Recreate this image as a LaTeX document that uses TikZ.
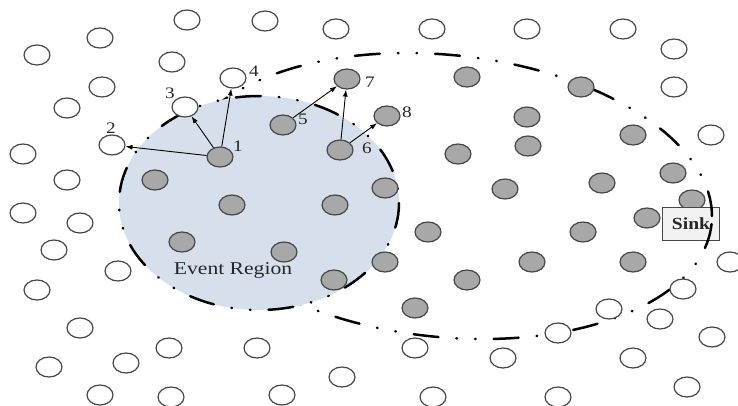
\documentclass[tikz,border=0pt]{standalone}
\usepackage{fontspec}
\setmainfont{Liberation Serif}
\usetikzlibrary{shapes.geometric,arrows.meta}
\definecolor{regionfill}{RGB}{214,224,236}
\definecolor{nodegray}{RGB}{168,168,168}
\definecolor{rimgray}{RGB}{70,70,70}
\definecolor{sinkfill}{RGB}{242,242,242}
\tikzset{
  sensor/.style={ellipse, minimum width=26pt, minimum height=20pt, inner sep=0pt, draw=rimgray, line width=1.2pt},
  idle/.style={sensor, fill=white},
  active/.style={sensor, fill=nodegray},
  boundary/.style={line width=2.5pt, line cap=round, dash pattern=on 25pt off 18pt on 0.6pt off 18pt on 0.6pt off 18pt},
  hop/.style={-{Latex[length=7pt,width=5pt]}, line width=0.9pt},
  tag/.style={font=\fontsize{16}{18}\selectfont, text=black!85, inner sep=0pt},
  routezone/.style={boundary, rotate around={-6:(445,196)}},
}
\begin{document}
\begin{tikzpicture}[x=1pt,y=-1pt]
\useasboundingbox (0,0) rectangle (738,405);
\fill[white] (0,0) rectangle (738,405);

% zone that the reports cross on their way to the sink
\draw[routezone] (445,196) ellipse [x radius=268, y radius=141];

% event region
\fill[regionfill] (259,203) ellipse [x radius=140, y radius=107];
\draw[boundary] (259,203) ellipse [x radius=140, y radius=107];

% sleeping sensors
\foreach \p [count=\i] in {(187,20),(265,21),(336,29),(432,29),(527,29),(623,29),(674,49),(674,87),(711,135),
  (100,38),(37,55),(172,62),(102,87),(67,108),(23,154),(67,180),
  (23,213),(80,223),(54,250),(118,271),(37,290),(80,328),(49,367),(126,363),(169,348),(100,395),(171,397),
  (257,348),(342,377),(282,395),(415,348),(433,397),(503,358),
  (730,262),(683,289),(609,309),(660,319),(558,333),(712,337),(633,358),(558,397),(687,387)}
  \node[idle] (w\i) at \p {};

% active sensors
\foreach \p [count=\i] in {(155,180),(232,205),(182,242),(284,252),(335,205),(334,280),(385,188),(385,262),
  (467,77),(581,87),(527,117),(528,146),(458,154),(633,135),(673,173),(692,200),(647,218),
  (505,189),(602,183),(428,232),(583,232),(532,262),(633,262),(467,280),(415,308)}
  \node[active] (g\i) at \p {};

% numbered sensors
\node[active] (n1) at (220,157) {};
\node[idle]   (n2) at (112,145) {};
\node[idle]   (n3) at (185,107) {};
\node[idle]   (n4) at (233,78) {};
\node[active] (n5) at (283,125) {};
\node[active] (n6) at (340,150) {};
\node[active] (n7) at (347,79) {};
\node[active] (n8) at (387,116) {};

\node[tag] (l1) at (238,146) {\scalebox{1.2}[1]{1}};
\node[tag] (l2) at (111,128) {\scalebox{1.2}[1]{2}};
\node[tag] (l3) at (170,93)  {\scalebox{1.2}[1]{3}};
\node[tag] (l4) at (254,71)  {\scalebox{1.2}[1]{4}};
\node[tag] (l5) at (303,119) {\scalebox{1.2}[1]{5}};
\node[tag] (l6) at (367,148) {\scalebox{1.2}[1]{6}};
\node[tag] (l7) at (370,82)  {\scalebox{1.2}[1]{7}};
\node[tag] (l8) at (407,112) {\scalebox{1.2}[1]{8}};

% forwarding hops
\draw[hop] (n1) -- (n2);
\draw[hop] (n1) -- (n3);
\draw[hop] (n1) -- (n4);
\draw[hop] (n5) -- (n7);
\draw[hop] (n6) -- (n7);
\draw[hop] (n6) -- (n8);

\node[text=black!85, inner sep=0pt, font=\fontsize{18}{20}\selectfont] (region) at (233,270) {\scalebox{1.2}[1]{Event Region}};

% sink
\node[draw=rimgray, fill=sinkfill, line width=1pt, minimum width=57pt, minimum height=33pt, inner sep=0pt,
  text=black!85, font=\bfseries\fontsize{17}{19}\selectfont] (sink) at (691,224) {\scalebox{1.15}[1]{Sink}};
\begin{scope}
  \clip (sink.north west) rectangle (sink.south east);
  \draw[routezone] (445,196) ellipse [x radius=268, y radius=141];
\end{scope}
\end{tikzpicture}
\end{document}
